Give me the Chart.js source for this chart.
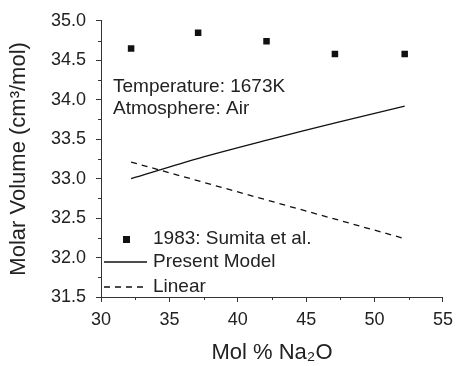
<!DOCTYPE html>
<html>
<head>
<meta charset="utf-8">
<script src="https://cdn.jsdelivr.net/npm/chart.js@4.4.0/dist/chart.umd.min.js"></script>
<style>
  html, body { margin: 0; padding: 0; background: #fff; }
  #wrap { width: 460px; height: 366px; }
</style>
</head>
<body>
<div id="wrap"><canvas id="grafico"></canvas></div>
<script>
// datos
const sumitaX = [32.2, 37.1, 42.1, 47.1, 52.2];
const sumitaY = [34.65, 34.85, 34.74, 34.58, 34.58];
const modeloX = [32.2, 37.2, 42.2, 47.2, 52.2];
const modeloY = [33.0, 33.26, 33.49, 33.71, 33.92];
const linealX = [32.2, 52.2];
const linealY = [33.21, 32.24];

const etiquetas = ['1983: Sumita et al.', 'Present Model', 'Linear'];
const notas = ['Temperature: 1673K', 'Atmosphere: Air'];
const ticksMenoresX = [32.5, 37.5, 42.5, 47.5, 52.5];
const ticksMenoresY = [31.75, 32.25, 32.75, 33.25, 33.75, 34.25, 34.75];

const fuente = '"Liberation Sans", Arial, sans-serif';
const colorTexto = '#222';
const colorEje = '#333';

const pares = (xs, ys) => xs.map((x, i) => ({ x: x, y: ys[i] }));

// ticks menores, leyenda y notas
const extras = {
    id: 'extras',
    afterDraw(chart) {
        const ctx = chart.ctx;
        const area = chart.chartArea;
        const sx = chart.scales.x;
        const sy = chart.scales.y;
        ctx.save();
        ctx.strokeStyle = colorEje;
        ctx.lineWidth = 1;
        ctx.beginPath();
        ticksMenoresX.forEach(v => {
            const px = Math.round(sx.getPixelForValue(v)) + 0.5;
            ctx.moveTo(px, area.bottom);
            ctx.lineTo(px, area.bottom + 3);
        });
        ticksMenoresY.forEach(v => {
            const py = Math.round(sy.getPixelForValue(v)) + 0.5;
            ctx.moveTo(area.left, py);
            ctx.lineTo(area.left - 3, py);
        });
        ctx.stroke();

        // notas
        ctx.fillStyle = colorTexto;
        ctx.font = '19px ' + fuente;
        ctx.textAlign = 'left';
        ctx.textBaseline = 'middle';
        ctx.fillText(notas[0], area.left + 12, area.top + 66);
        ctx.fillText(notas[1], area.left + 12, area.top + 88);

        // leyenda
        const ds = chart.data.datasets;
        const filas = [area.bottom - 58, area.bottom - 35, area.bottom - 10];
        ctx.fillStyle = ds[0].backgroundColor;
        ctx.fillRect(area.left + 22, filas[0] - 3, 7, 7);
        ctx.strokeStyle = ds[1].borderColor;
        ctx.lineWidth = ds[1].borderWidth;
        ctx.beginPath();
        ctx.moveTo(area.left + 3, filas[1]);
        ctx.lineTo(area.left + 46, filas[1]);
        ctx.stroke();
        ctx.setLineDash(ds[2].borderDash);
        ctx.beginPath();
        ctx.moveTo(area.left + 3, filas[2]);
        ctx.lineTo(area.left + 46, filas[2]);
        ctx.stroke();
        ctx.setLineDash([]);
        ctx.fillStyle = colorTexto;
        etiquetas.forEach((t, i) => ctx.fillText(t, area.left + 52, filas[i]));
        ctx.restore();
    }
};

const grafico = new Chart(document.getElementById('grafico'), {
    type: 'scatter',
    data: {
        datasets: [{
            label: etiquetas[0],
            data: pares(sumitaX, sumitaY),
            pointStyle: 'rect',
            pointRadius: 4.6,
            borderWidth: 0,
            backgroundColor: '#111',
            showLine: false
        }, {
            label: etiquetas[1],
            data: pares(modeloX, modeloY),
            showLine: true,
            pointRadius: 0,
            borderColor: '#111',
            borderWidth: 1.3,
            tension: 0.3
        }, {
            label: etiquetas[2],
            data: pares(linealX, linealY),
            showLine: true,
            pointRadius: 0,
            borderColor: '#111',
            borderWidth: 1.3,
            borderDash: [6, 5]
        }]
    },
    options: {
        responsive: true,
        maintainAspectRatio: false,
        animation: false,
        layout: { padding: { left: 0, top: 16, right: 10, bottom: 0 } },
        plugins: { legend: { display: false }, tooltip: { enabled: false } },
        scales: {
            x: {
                type: 'linear',
                min: 30,
                max: 55,
                afterFit: s => { s.height = 69; },
                ticks: { stepSize: 5, color: colorTexto, padding: 7, font: { family: fuente, size: 18 } },
                grid: { drawOnChartArea: false, drawTicks: true, tickLength: 5, color: colorEje },
                border: { color: colorEje, width: 1 },
                title: { display: true, text: 'Mol % Na₂O', color: colorTexto, padding: { top: 0, bottom: 0 }, font: { family: fuente, size: 22 } }
            },
            y: {
                type: 'linear',
                min: 31.5,
                max: 35,
                afterFit: s => { s.width = 101; },
                ticks: { stepSize: 0.5, color: colorTexto, padding: 10, font: { family: fuente, size: 18 },
                    callback: v => v.toFixed(1) },
                grid: { drawOnChartArea: false, drawTicks: true, tickLength: 5, color: colorEje },
                border: { color: colorEje, width: 1 },
                title: { display: true, text: 'Molar Volume (cm³/mol)', color: colorTexto, padding: { top: 6, bottom: 0 }, font: { family: fuente, size: 22 } }
            }
        }
    },
    plugins: [extras]
});
</script>
</body>
</html>
